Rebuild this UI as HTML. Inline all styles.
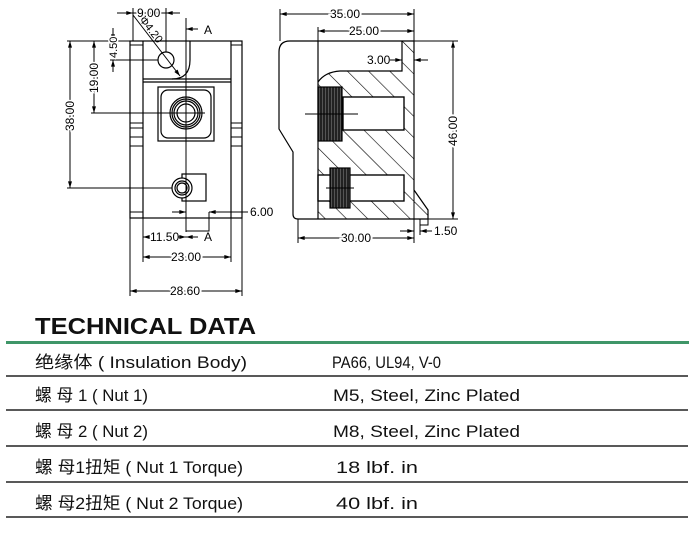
<!DOCTYPE html>
<html><head><style>
html,body{margin:0;padding:0;background:#fff;}
svg{display:block;}
.d{font-family:"Liberation Sans",sans-serif;font-size:12px;fill:#000;}
.t{font-family:"Liberation Sans","Noto Sans CJK SC",sans-serif;font-size:17px;fill:#111;}
</style></head><body>
<svg width="700" height="542" viewBox="0 0 700 542" xmlns="http://www.w3.org/2000/svg">
<defs>
<marker id="a" viewBox="0 0 10 6" refX="10" refY="3" markerWidth="8" markerHeight="4" orient="auto-start-reverse"><path d="M0,0L10,3L0,6z" fill="#000"/></marker>
<pattern id="h" width="15" height="15" patternUnits="userSpaceOnUse" patternTransform="rotate(-45)"><line x1="0" y1="0" x2="0" y2="15" stroke="#000" stroke-width="1.2"/></pattern>
<pattern id="k" width="3" height="3" patternUnits="userSpaceOnUse"><rect width="3" height="3" fill="#222"/><line x1="1.5" y1="0" x2="1.5" y2="3" stroke="#777" stroke-width="0.6"/></pattern>
</defs>
<g fill="none" stroke="#000" stroke-width="1.2">
<rect x="130" y="41" width="112" height="177"/>
<line x1="143" y1="41" x2="143" y2="218"/><line x1="231" y1="41" x2="231" y2="218"/>
<line x1="143" y1="79" x2="231" y2="79"/><line x1="143" y1="82" x2="231" y2="82"/>
<path d="M190,41 V60 Q190,79 172,79"/>
<g stroke-width="1">
<line x1="130" y1="45" x2="143" y2="45"/><line x1="231" y1="45" x2="242" y2="45"/>
<line x1="130" y1="123" x2="143" y2="123"/><line x1="231" y1="123" x2="242" y2="123"/>
<line x1="130" y1="128" x2="143" y2="128"/><line x1="231" y1="128" x2="242" y2="128"/>
<line x1="130" y1="137" x2="143" y2="137"/><line x1="231" y1="137" x2="242" y2="137"/>
<line x1="130" y1="146" x2="143" y2="146"/><line x1="231" y1="146" x2="242" y2="146"/>
<line x1="130" y1="212" x2="143" y2="212"/><line x1="231" y1="212" x2="242" y2="212"/>
</g>
<rect x="158" y="87" width="56" height="54"/>
<rect x="161" y="90" width="50" height="48" rx="7"/>
<circle cx="186" cy="113" r="16"/><circle cx="186" cy="113" r="14"/><circle cx="186" cy="113" r="12"/><circle cx="186" cy="113" r="9"/>
<rect x="182" y="174" width="24" height="27"/>
<circle cx="182" cy="188" r="10" fill="#fff"/><circle cx="182" cy="188" r="7"/><circle cx="182" cy="188" r="5"/>
<circle cx="166" cy="60" r="8"/>
<line x1="186" y1="18" x2="186" y2="232" stroke-width="1"/>
<line x1="150" y1="113" x2="205" y2="113" stroke-width="1"/>
<path d="M186,218 V231 H209 V212" stroke-width="1"/>
<g stroke-width="1">
<line x1="133" y1="15" x2="180" y2="76" marker-end="url(#a)"/>
<line x1="117" y1="13" x2="133" y2="13" marker-end="url(#a)"/><line x1="180" y1="13" x2="166" y2="13" marker-end="url(#a)"/>
<line x1="133" y1="13" x2="180" y2="13"/>
<line x1="133" y1="8" x2="133" y2="41"/><line x1="166" y1="8" x2="166" y2="52"/>
<line x1="198" y1="29" x2="186" y2="29" marker-end="url(#a)"/>
<line x1="110" y1="41" x2="130" y2="41"/><line x1="110" y1="60" x2="158" y2="60"/>
<line x1="113" y1="28" x2="113" y2="41" marker-end="url(#a)"/><line x1="113" y1="72" x2="113" y2="60" marker-end="url(#a)"/>
<line x1="91" y1="41" x2="130" y2="41"/><line x1="91" y1="113" x2="170" y2="113"/>
<line x1="94" y1="41" x2="94" y2="113" marker-start="url(#a)" marker-end="url(#a)"/>
<line x1="67" y1="41" x2="91" y2="41"/><line x1="67" y1="188" x2="172" y2="188"/>
<line x1="70" y1="41" x2="70" y2="188" marker-start="url(#a)" marker-end="url(#a)"/>
<line x1="172" y1="212" x2="186" y2="212" marker-end="url(#a)"/><line x1="248" y1="212" x2="209" y2="212" marker-end="url(#a)"/>
<line x1="143" y1="218" x2="143" y2="262"/><line x1="231" y1="218" x2="231" y2="262"/>
<line x1="130" y1="218" x2="130" y2="296"/><line x1="242" y1="218" x2="242" y2="296"/>
<line x1="143" y1="237" x2="149" y2="237" marker-start="url(#a)"/><line x1="178" y1="237" x2="186" y2="237" marker-end="url(#a)"/>
<line x1="198" y1="237" x2="186" y2="237" marker-end="url(#a)"/>
<line x1="143" y1="257" x2="231" y2="257" marker-start="url(#a)" marker-end="url(#a)"/>
<line x1="130" y1="291" x2="242" y2="291" marker-start="url(#a)" marker-end="url(#a)"/>
</g>
<path d="M318,82 Q325,72 340,71 H402 V41 H414 V190 L428,210 V219 H318 Z" fill="url(#h)" stroke="none"/>
<rect x="343" y="97" width="61" height="33" fill="#fff"/>
<rect x="318" y="175" width="86" height="26" fill="#fff"/>
<path d="M290,41 H414 V190 L428,210 V219 H298 Q293,219 293,214 V152 L279,129 V52 Q279,41 290,41 Z"/>
<line x1="318" y1="41" x2="318" y2="219"/>
<path d="M318,82 Q325,72 340,71 H402 V41"/>
<rect x="343" y="97" width="61" height="33"/>
<rect x="318" y="175" width="86" height="26"/>
<rect x="318" y="87" width="24" height="54" fill="url(#k)"/>
<rect x="330" y="168" width="20" height="40" fill="url(#k)"/>
<line x1="305" y1="114" x2="358" y2="114" stroke-width="1"/>
<line x1="326" y1="188" x2="354" y2="188" stroke-width="1"/>
<rect x="420" y="219" width="8" height="6" stroke-width="1"/>
<g stroke-width="1">
<line x1="280" y1="9" x2="280" y2="41"/><line x1="414" y1="9" x2="414" y2="243"/>
<line x1="280" y1="14" x2="414" y2="14" marker-start="url(#a)" marker-end="url(#a)"/>
<line x1="318" y1="27" x2="318" y2="41"/>
<line x1="318" y1="31" x2="414" y2="31" marker-start="url(#a)" marker-end="url(#a)"/>
<line x1="390" y1="60" x2="402" y2="60" marker-end="url(#a)"/><line x1="428" y1="60" x2="414" y2="60" marker-end="url(#a)"/>
<line x1="414" y1="41" x2="458" y2="41"/><line x1="428" y1="219" x2="458" y2="219"/>
<line x1="453" y1="41" x2="453" y2="219" marker-start="url(#a)" marker-end="url(#a)"/>
<line x1="298" y1="219" x2="298" y2="243"/>
<line x1="298" y1="238" x2="414" y2="238" marker-start="url(#a)" marker-end="url(#a)"/>
<line x1="400" y1="231" x2="414" y2="231" marker-end="url(#a)"/><line x1="432" y1="231" x2="420" y2="231" marker-end="url(#a)"/>
<line x1="420" y1="225" x2="420" y2="235"/>
</g>
</g>
<g class="d">
<text x="137" y="17" stroke="#fff" stroke-width="3" style="paint-order:stroke">9.00</text>
<text transform="translate(139,20) rotate(52)" font-size="11">Φ4.20</text>
<text x="204" y="34">A</text>
<text transform="translate(117,58) rotate(-90)" font-size="11" stroke="#fff" stroke-width="3" style="paint-order:stroke">4.50</text>
<text transform="translate(98,93) rotate(-90)" stroke="#fff" stroke-width="3" style="paint-order:stroke">19.00</text>
<text transform="translate(74,131) rotate(-90)" stroke="#fff" stroke-width="3" style="paint-order:stroke">38.00</text>
<text x="250" y="216">6.00</text>
<text x="150" y="241">11.50</text>
<text x="204" y="241">A</text>
<text x="171" y="261" stroke="#fff" stroke-width="4" style="paint-order:stroke">23.00</text>
<text x="170" y="295" stroke="#fff" stroke-width="4" style="paint-order:stroke">28.60</text>
<text x="330" y="18" stroke="#fff" stroke-width="4" style="paint-order:stroke">35.00</text>
<text x="349" y="35" stroke="#fff" stroke-width="4" style="paint-order:stroke">25.00</text>
<text x="367" y="64">3.00</text>
<text transform="translate(457,146) rotate(-90)" stroke="#fff" stroke-width="4" style="paint-order:stroke">46.00</text>
<text x="341" y="242" stroke="#fff" stroke-width="4" style="paint-order:stroke">30.00</text>
<text x="434" y="235">1.50</text>
</g>
<text x="35" y="334" font-family="Liberation Sans,sans-serif" font-weight="bold" font-size="23" textLength="221" lengthAdjust="spacingAndGlyphs" fill="#111">TECHNICAL DATA</text>
<rect x="6" y="341" width="683" height="3" fill="#3f9668"/>
<g stroke="#222" stroke-width="1.5">
<line x1="6" y1="376" x2="688" y2="376"/><line x1="6" y1="410" x2="688" y2="410"/>
<line x1="6" y1="446" x2="688" y2="446"/><line x1="6" y1="482" x2="688" y2="482"/>
<line x1="6" y1="517" x2="688" y2="517"/>
</g>
<g class="t">
<text x="35" y="368" textLength="212" lengthAdjust="spacingAndGlyphs">绝缘体 ( Insulation Body)</text>
<text x="332" y="368" textLength="109" lengthAdjust="spacingAndGlyphs">PA66, UL94, V-0</text>
<text x="35" y="401" textLength="113" lengthAdjust="spacingAndGlyphs">螺 母 1 ( Nut 1)</text>
<text x="333" y="401" textLength="187" lengthAdjust="spacingAndGlyphs">M5, Steel, Zinc Plated</text>
<text x="35" y="437" textLength="113" lengthAdjust="spacingAndGlyphs">螺 母 2 ( Nut 2)</text>
<text x="333" y="437" textLength="187" lengthAdjust="spacingAndGlyphs">M8, Steel, Zinc Plated</text>
<text x="35" y="473" textLength="208" lengthAdjust="spacingAndGlyphs">螺 母1扭矩 ( Nut 1 Torque)</text>
<text x="336" y="473" textLength="82" lengthAdjust="spacingAndGlyphs">18 lbf. in</text>
<text x="35" y="509" textLength="208" lengthAdjust="spacingAndGlyphs">螺 母2扭矩 ( Nut 2 Torque)</text>
<text x="336" y="509" textLength="82" lengthAdjust="spacingAndGlyphs">40 lbf. in</text>
</g>
</svg>
</body></html>
